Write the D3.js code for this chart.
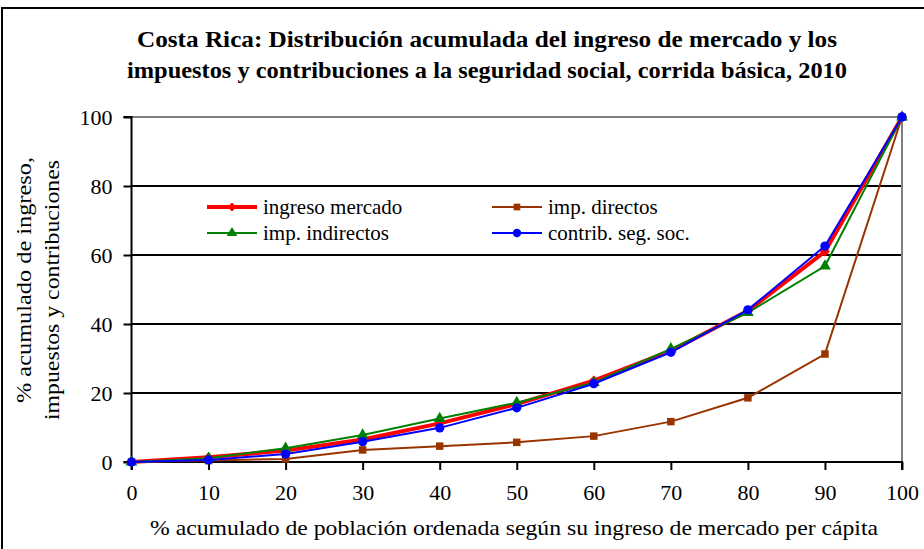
<!DOCTYPE html>
<html><head><meta charset="utf-8">
<script src="https://cdn.jsdelivr.net/npm/d3@7"></script>
<style>html,body{margin:0;padding:0;background:#fff;} svg{display:block;} text{font-family:"Liberation Serif","Times New Roman",serif;}</style>
</head><body>
<svg id="chart" width="924" height="549"></svg>
<script>
const deciles = [0,10,20,30,40,50,60,70,80,90,100];
const ingresoMercado = [0,1.4,3.3,6.5,11.2,16.8,23.6,32.2,43.8,61,100];
const impDirectos = [0,0.4,0.9,3.5,4.6,5.7,7.5,11.7,18.6,31.3,100];
const impIndirectos = [0,1.1,4.0,7.8,12.6,17.2,23.0,32.8,43.3,56.8,100];
const contribSegSoc = [0,0.6,2.3,5.9,9.9,15.7,22.7,31.8,44.1,62.6,100];
const xTicks = [0,10,20,30,40,50,60,70,80,90,100];
const yTicks = [0,20,40,60,80,100];
const titleLines = ["Costa Rica: Distribución acumulada del ingreso de mercado y los","impuestos y contribuciones a la seguridad social, corrida básica, 2010"];
const xTitle = "% acumulado de población ordenada según su ingreso de mercado per cápita";
const yTitleLines = ["% acumulado de ingreso,","impuestos y contribuciones"];
const seriesNames = ["ingreso mercado","imp. directos","imp. indirectos","contrib. seg. soc."];

const FONT = "Liberation Serif";
const svg = d3.select("#chart");
// outer border
svg.append("rect").attr("x",2).attr("y",8).attr("width",940).attr("height",560)
  .attr("fill","none").attr("stroke","#000").attr("stroke-width",2);

const x = d3.scaleLinear().domain([0,100]).range([131.5,902]);
const y = d3.scaleLinear().domain([0,100]).range([462,117]);

// title
titleLines.forEach((t,i)=>{
  svg.append("text").attr("x",487).attr("y",[47,78][i]).attr("text-anchor","middle")
    .style("font-family",FONT).attr("font-size",24).attr("font-weight","bold")
    .attr("textLength",[700,720][i]).attr("lengthAdjust","spacingAndGlyphs").text(t);
});

// gridlines
svg.append("g").selectAll("line").data(yTicks.filter(d=>d>0&&d<100)).join("line")
  .attr("x1",x(0)).attr("x2",x(100)).attr("y1",d=>y(d)).attr("y2",d=>y(d))
  .attr("stroke","#000").attr("stroke-width",2);
// plot border top & right (grey)
svg.append("path").attr("d",`M${x(0)},${y(100)}H${x(100)}V${y(0)}`)
  .attr("fill","none").attr("stroke","#808080").attr("stroke-width",2);

// axes
const gx = svg.append("g").attr("transform",`translate(0,${y(0)})`)
  .call(d3.axisBottom(x).tickValues(xTicks).tickSize(8).tickPadding(14).tickFormat(d3.format("d")));
const gy = svg.append("g").attr("transform",`translate(${x(0)},0)`)
  .call(d3.axisLeft(y).tickValues(yTicks).tickSize(8).tickPadding(11).tickFormat(d3.format("d")));
[gx,gy].forEach(g=>{
  g.attr("font-family",null).attr("font-size",null);
  g.select(".domain").attr("stroke","#000").attr("stroke-width",2);
  g.selectAll(".tick line").attr("stroke","#000").attr("stroke-width",2);
  g.selectAll(".tick text").style("font-family",FONT).style("font-size","22px").attr("fill","#000");
});
gx.select(".domain").attr("d",`M${x(0)},8V0H${x(100)}V8`);
gy.select(".domain").attr("d",`M-8,${y(100)}H0V${y(0)}H-8`);

// axis titles
svg.append("text").attr("x",514).attr("y",535).attr("text-anchor","middle")
  .style("font-family",FONT).attr("font-size",21)
  .attr("textLength",728).attr("lengthAdjust","spacingAndGlyphs").text(xTitle);
yTitleLines.forEach((t,i)=>{
  svg.append("text").attr("transform",`translate(${[31,59][i]},${[280,290][i]}) rotate(-90)`)
    .attr("text-anchor","middle").style("font-family",FONT).attr("font-size",22)
    .attr("textLength",[246,260][i]).attr("lengthAdjust","spacingAndGlyphs").text(t);
});

const series = [
  {name:seriesNames[0], values:ingresoMercado, color:"#FF0000", width:4, sym:d3.symbolDiamond2 || d3.symbolDiamond, size:64},
  {name:seriesNames[1], values:impDirectos, color:"#993300", width:2, sym:d3.symbolSquare, size:56},
  {name:seriesNames[2], values:impIndirectos, color:"#008000", width:2, sym:d3.symbolTriangle, size:60},
  {name:seriesNames[3], values:contribSegSoc, color:"#0000FF", width:2, sym:d3.symbolCircle, size:68},
];
const line = d3.line().x((d,i)=>x(deciles[i])).y(d=>y(d));
series.forEach(s=>{
  const g = svg.append("g");
  g.append("path").attr("d",line(s.values)).attr("fill","none").attr("stroke",s.color).attr("stroke-width",s.width);
  g.selectAll("path.m").data(s.values).join("path").attr("class","m")
    .attr("transform",(d,i)=>`translate(${x(deciles[i])},${y(d)})`)
    .attr("d",d3.symbol().type(s.sym).size(s.size)).attr("fill",s.color);
});

// legend
const legPos = [[207,207],[492,207],[207,233],[492,233]];
series.forEach((s,i)=>{
  const [lx,ly] = legPos[i];
  const g = svg.append("g").attr("transform",`translate(${lx},${ly})`);
  g.append("line").attr("x1",0).attr("x2",50).attr("stroke",s.color).attr("stroke-width",s.width);
  g.append("path").attr("transform","translate(25,0)").attr("d",d3.symbol().type(s.sym).size(s.size*0.8)).attr("fill",s.color);
  g.append("text").attr("x",56).attr("y",7).style("font-family",FONT).attr("font-size",21).text(s.name);
});
</script>
</body></html>
